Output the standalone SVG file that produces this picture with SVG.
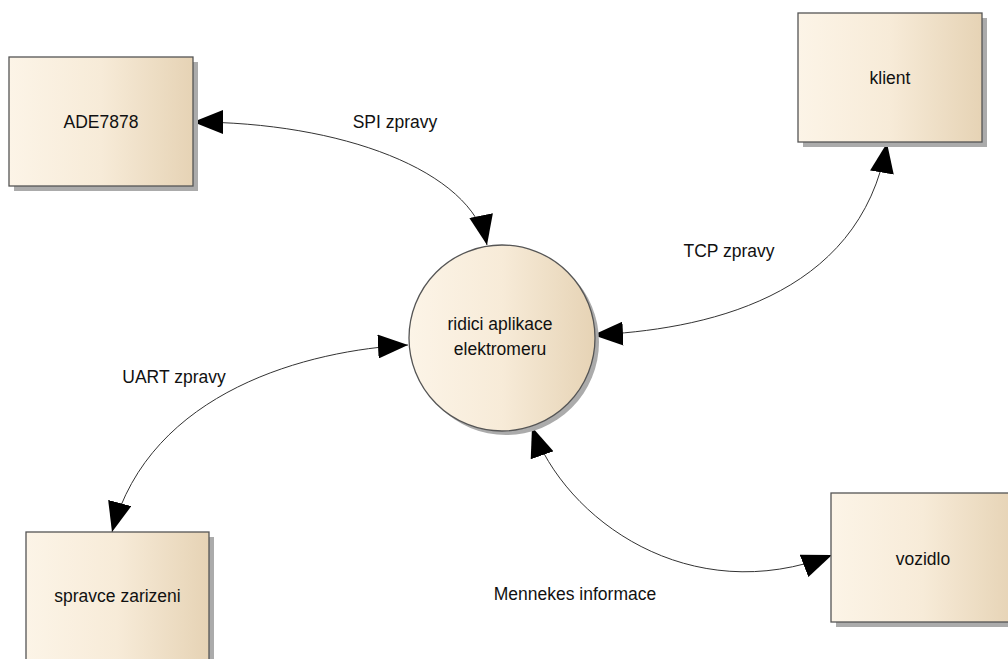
<svg xmlns="http://www.w3.org/2000/svg" width="1008" height="659" viewBox="0 0 1008 659">
<defs>
<linearGradient id="fill" x1="0" y1="0" x2="1" y2="0">
<stop offset="0" stop-color="#FCF4E7"/>
<stop offset="0.5" stop-color="#F7EBD8"/>
<stop offset="1" stop-color="#E6D3B5"/>
</linearGradient>
<marker id="ah" markerWidth="30" markerHeight="24" refX="30" refY="12" orient="auto-start-reverse" markerUnits="userSpaceOnUse" viewBox="0 0 30 24">
<path d="M0,0 L30,12 L0,24 Z" fill="#000"/>
</marker>
<style>
.box{fill:url(#fill);stroke:#555;stroke-width:1.3}
.shadow{fill:#ABABAB}
.lbl{font-family:"Liberation Sans",Arial,sans-serif;font-size:17.5px;fill:#111;text-anchor:middle}
.con{fill:none;stroke:#333;stroke-width:1;marker-start:url(#ah);marker-end:url(#ah)}
</style>
</defs>
<rect width="1008" height="659" fill="#fff"/>
<g id="connectors">
<path class="con" d="M193,122 C340,122 472,170 487,245"/>
<path class="con" d="M593,335 C700,330 860,300 887,143"/>
<path class="con" d="M408,345 C310,350 150,390 112,532"/>
<path class="con" d="M532,427 C565,520 690,610 832,555"/>
</g>
<g id="ADE7878">
<rect class="shadow" x="14" y="62" width="184" height="129"/>
<rect class="box" x="9" y="57" width="184" height="129"/>
<text class="lbl" x="101" y="128">ADE7878</text>
</g>
<g id="klient">
<rect class="shadow" x="803" y="18" width="184" height="129"/>
<rect class="box" x="798" y="13" width="184" height="129"/>
<text class="lbl" x="890" y="84">klient</text>
</g>
<g id="spravce">
<rect class="shadow" x="31" y="537" width="183" height="129"/>
<rect class="box" x="26" y="532" width="183" height="129"/>
<text class="lbl" x="117.5" y="602">spravce zarizeni</text>
</g>
<g id="vozidlo">
<rect class="shadow" x="836" y="498" width="184" height="129"/>
<rect class="box" x="831" y="493" width="184" height="129"/>
<text class="lbl" x="923" y="565">vozidlo</text>
</g>
<g id="ridici">
<circle class="shadow" cx="506" cy="342" r="93"/>
<circle class="box" cx="502" cy="338" r="93"/>
<text class="lbl" x="500" y="330">ridici aplikace</text>
<text class="lbl" x="500" y="355">elektromeru</text>
</g>
<g id="labels">
<text class="lbl" x="395" y="128">SPI zpravy</text>
<text class="lbl" x="729" y="257">TCP zpravy</text>
<text class="lbl" x="174" y="383">UART zpravy</text>
<text class="lbl" x="575" y="600">Mennekes informace</text>
</g>
</svg>
